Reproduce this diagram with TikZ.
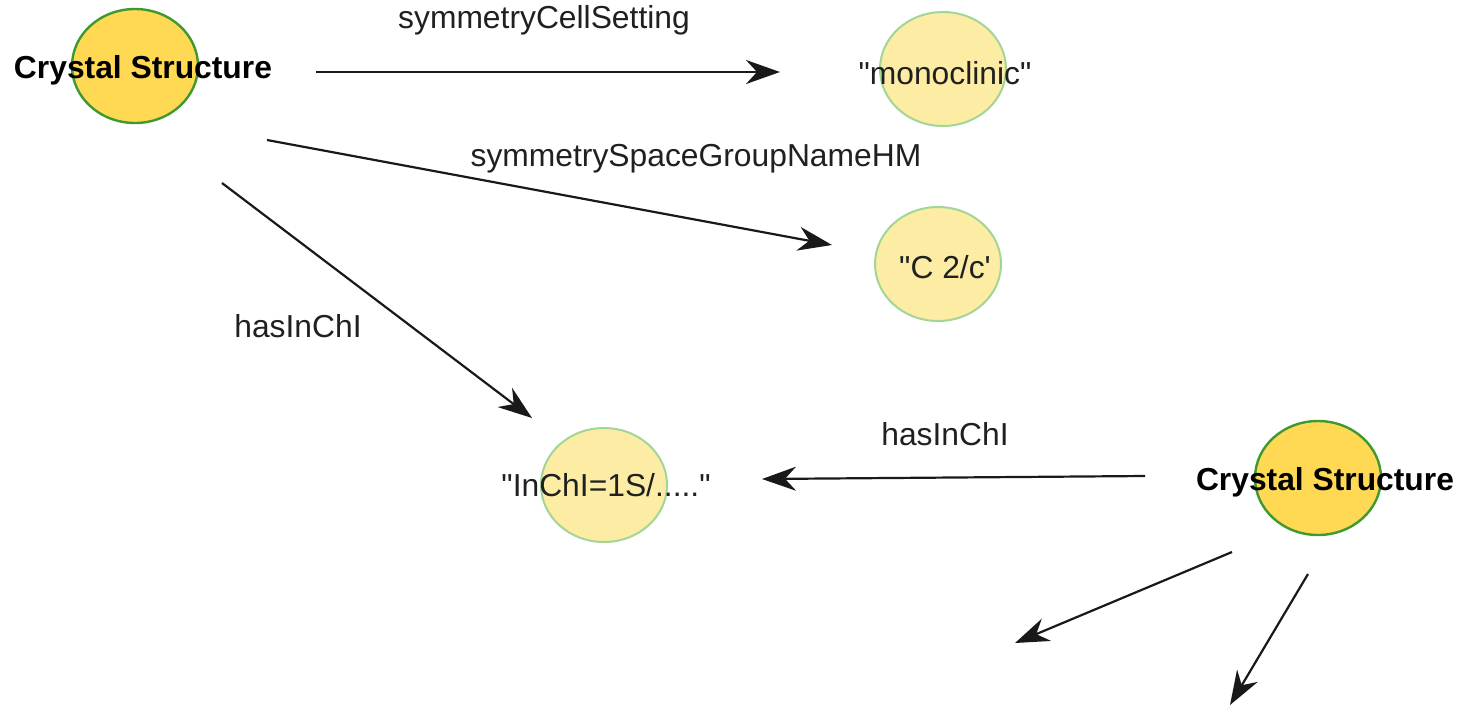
\documentclass[tikz,border=0pt]{standalone}
\usepackage{fontspec}
\setmainfont{Liberation Sans}
\usetikzlibrary{arrows.meta,shapes.geometric}
\definecolor{csfill}{HTML}{FFD954}
\definecolor{csdraw}{HTML}{3E9A30}
\definecolor{litfill}{HTML}{FDECA4}
\definecolor{litdraw}{HTML}{A3D596}
\definecolor{txt}{HTML}{202020}
\tikzset{
  csball/.style={ellipse, draw=csdraw, fill=csfill, line width=1.2pt, minimum width=63pt, minimum height=57pt, inner sep=0pt},
  litball/.style={ellipse, draw=litdraw, fill=litfill, line width=1pt, minimum width=63pt, minimum height=57pt, inner sep=0pt},
  cstext/.style={font=\fontsize{15.9}{19}\selectfont\bfseries, text=black, inner sep=0pt},
  littext/.style={font=\fontsize{15.9}{19}\selectfont, text=txt, inner sep=0pt},
  edgelabel/.style={font=\fontsize{15.9}{19}\selectfont, text=txt, inner sep=0pt},
  rel/.style={draw=black!90, line width=1.1pt, -{Stealth[length=17pt, width=12pt, inset=5.5pt]}}
}
\begin{document}
\begin{tikzpicture}[x=0.5pt, y=-0.5pt]
\useasboundingbox (0,0) rectangle (1467,708);
% ellipses
\node[csball] (cs1) at (135,66) {};
\node[litball] (mono) at (943,69) {};
\node[litball] (c2c) at (938,264) {};
\node[litball] (inchi) at (604,485) {};
\node[csball] (cs2) at (1318,478) {};
% texts
\node[cstext] (cs1t) at (143,70) {Crystal Structure};
\node[littext] (monot) at (945,73) {\textquotedbl monoclinic\textquotedbl};
\node[littext] (c2ct) at (945,267) {\textquotedbl C 2/c\textquotesingle};
\node[littext] (inchit) at (606,485) {\textquotedbl InChI=1S/.....\textquotedbl};
\node[cstext] (cs2t) at (1325,482) {Crystal Structure};
% connector end points
\coordinate (a1s) at (316,72);
\coordinate (a1e) at (780,72);
\coordinate (a2s) at (267,140);
\coordinate (a2e) at (832,245);
\coordinate (a3s) at (222,183);
\coordinate (a3e) at (532,418);
\coordinate (a4s) at (1145,476);
\coordinate (a4e) at (762,479);
\coordinate (a5s) at (1232,552);
\coordinate (a5e) at (1015,643);
\coordinate (a6s) at (1308,574);
\coordinate (a6e) at (1230,705);
% connectors
\draw[rel] (a1s) -- (a1e);
\draw[rel] (a2s) -- (a2e);
\draw[rel] (a3s) -- (a3e);
\draw[rel] (a4s) -- (a4e);
\draw[rel] (a5s) -- (a5e);
\draw[rel] (a6s) -- (a6e);
% labels
\node[edgelabel] (l1) at (544,20) {symmetryCellSetting};
\node[edgelabel] (l2) at (696,159) {symmetrySpaceGroupNameHM};
\node[edgelabel] (l3) at (298,326) {hasInChI};
\node[edgelabel] (l4) at (945,434) {hasInChI};
\end{tikzpicture}
\end{document}
